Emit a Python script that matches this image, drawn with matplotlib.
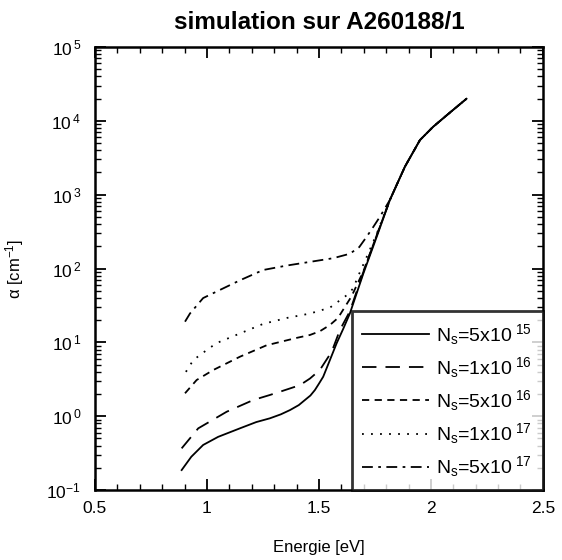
import numpy as np
import matplotlib
matplotlib.use("Agg")
import matplotlib.pyplot as plt
from matplotlib.ticker import MultipleLocator, NullFormatter, FixedLocator, FuncFormatter

plt.rcParams['font.family'] = ['Liberation Sans', 'DejaVu Sans']
plt.rcParams['mathtext.fontset'] = 'custom'
plt.rcParams['mathtext.rm'] = 'Liberation Sans'
plt.rcParams['mathtext.it'] = 'Liberation Sans'
plt.rcParams['mathtext.default'] = 'regular'

# Shared high-energy tail (all curves coincide), log10(alpha)
tail_E = [1.884, 1.951, 2.01, 2.08, 2.159]
tail_log = [3.38, 3.74, 3.92, 4.10, 4.30]

# Ns = 5x10^15 (solid)
E1 = [0.887, 0.93, 0.983, 1.05, 1.147, 1.22, 1.281, 1.33, 1.371, 1.41, 1.4375, 1.462,
      1.482, 1.50, 1.519, 1.549, 1.579, 1.608, 1.638, 1.698, 1.758, 1.817]
L1 = [-0.73, -0.55, -0.39, -0.28, -0.165, -0.08, -0.029, 0.025, 0.083, 0.15, 0.219, 0.28,
      0.354, 0.44, 0.534, 0.76, 0.987, 1.18, 1.39, 1.93, 2.43, 2.93]
# Ns = 1x10^16 (long dash)
E2 = [0.887, 0.961, 1.088, 1.207, 1.281, 1.326, 1.415, 1.46, 1.504, 1.557, 1.594,
      1.638, 1.698, 1.758, 1.817]
L2 = [-0.436, -0.165, 0.06, 0.219, 0.287, 0.331, 0.42, 0.51, 0.625, 0.873, 1.17,
      1.42, 1.95, 2.45, 2.93]
# Ns = 5x10^16 (short dash)
E3 = [0.902, 0.954, 1.028, 1.147, 1.266, 1.40, 1.46, 1.504, 1.549, 1.585, 1.616,
      1.645, 1.698, 1.758, 1.817]
L3 = [0.31, 0.49, 0.625, 0.805, 0.96, 1.06, 1.10, 1.15, 1.235, 1.33, 1.48,
      1.62, 1.96, 2.45, 2.93]
# Ns = 1x10^17 (dotted)
E4 = [0.906, 0.939, 0.999, 1.043, 1.147, 1.251, 1.356, 1.46, 1.549, 1.594, 1.625,
      1.653, 1.674, 1.705, 1.758, 1.817]
L4 = [0.60, 0.76, 0.896, 0.99, 1.12, 1.25, 1.33, 1.39, 1.47, 1.57, 1.64,
      1.73, 1.89, 2.10, 2.47, 2.93]
# Ns = 5x10^17 (dash-dot)
E5 = [0.902, 0.924, 0.983, 1.058, 1.147, 1.251, 1.356, 1.46, 1.564, 1.638, 1.68,
      1.713, 1.742, 1.772, 1.817]
L5 = [1.28, 1.39, 1.60, 1.71, 1.84, 1.98, 2.04, 2.09, 2.14, 2.2, 2.29,
      2.43, 2.56, 2.70, 2.93]

labels = [r'N$_\mathrm{s}$=5x10$^{\ 15}$', r'N$_\mathrm{s}$=1x10$^{\ 16}$',
          r'N$_\mathrm{s}$=5x10$^{\ 16}$', r'N$_\mathrm{s}$=1x10$^{\ 17}$',
          r'N$_\mathrm{s}$=5x10$^{\ 17}$']
styles = ['-', (0, (8, 5)), (0, (4, 3)), (0, (1, 4)), (0, (6, 3, 1.5, 3))]
xticks = [0.5, 1, 1.5, 2, 2.5]
xticklabels = ['0.5', '1', '1.5', '2', '2.5']
yexps = [-1, 0, 1, 2, 3, 4, 5]


def yfmt(v, p):
    e = int(round(np.log10(v)))
    return r'10$^{\,%d}$' % e if e >= 0 else r'10$^{-%d}$' % (-e)


fig = plt.figure(figsize=(5.62, 5.60), dpi=100)
ax = fig.add_axes([0.169, 0.125, 0.797, 0.791])

series = [(E1, L1), (E2, L2), (E3, L3), (E4, L4), (E5, L5)]
for (E, L), lab, ls in zip(series, labels, styles):
    x = list(E) + tail_E
    y = 10 ** np.array(list(L) + tail_log)
    ax.plot(x, y, color='black', linestyle=ls, linewidth=1.3, label=lab)

ax.set_yscale('log')
ax.set_xlim(0.5, 2.5)
ax.set_ylim(1e-1, 1e5)
ax.xaxis.set_major_locator(FixedLocator(xticks))
ax.set_xticklabels(xticklabels)
ax.xaxis.set_minor_locator(MultipleLocator(0.1))
ax.yaxis.set_major_locator(FixedLocator([10.0 ** e for e in yexps]))
ax.yaxis.set_major_formatter(FuncFormatter(yfmt))
ax.yaxis.set_minor_locator(FixedLocator([k * 10.0 ** e for e in yexps[:-1] for k in range(2, 10)]))
ax.yaxis.set_minor_formatter(NullFormatter())
ax.tick_params(which='both', direction='in', top=True, right=True, labelsize=12.5)
ax.tick_params(which='major', length=8, width=1.3)
ax.tick_params(which='minor', length=4.5, width=1.0)
ax.tick_params(axis='x', pad=8)
ax.tick_params(axis='y', pad=10)
for s in ax.spines.values():
    s.set_linewidth(1.8)

ax.set_xlabel('Energie [eV]', fontsize=12)
ax.xaxis.set_label_coords(0.5, -0.112)
ax.set_ylabel(r'$\alpha$ [cm$^{-1}$]', fontsize=12)
ax.yaxis.set_label_coords(-0.155, 0.5)
ax.set_title('simulation sur A260188/1', fontsize=17.5, fontweight='bold', pad=13)

leg = ax.legend(loc='lower right', bbox_to_anchor=(1.0, 0.0), borderaxespad=0,
                fontsize=14, frameon=True, fancybox=False, edgecolor='black',
                handlelength=3.4, labelspacing=0.42, borderpad=0.55, handletextpad=0.4)
leg.get_frame().set_linewidth(2.0)

fig.savefig('out.png', dpi=100)
